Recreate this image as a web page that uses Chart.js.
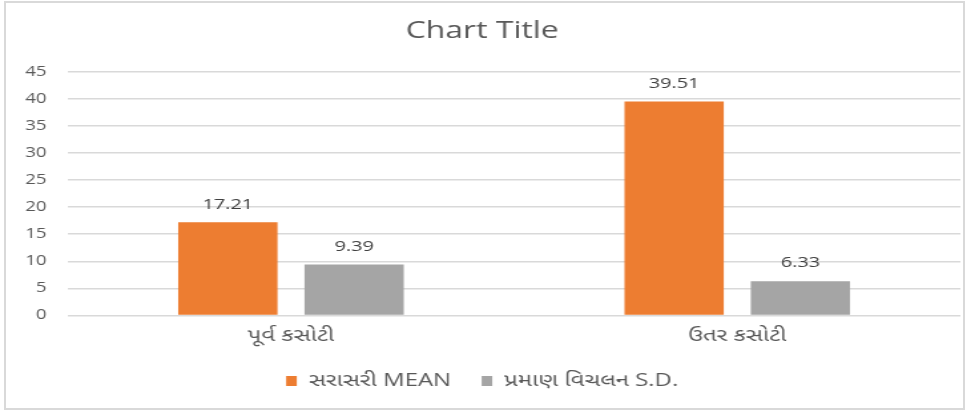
<!DOCTYPE html>
<html>
<head>
<meta charset="utf-8">
<script src="https://cdn.jsdelivr.net/npm/chart.js@4.4.1/dist/chart.umd.min.js"></script>
<style>
  body { margin: 0; background: #fff; }
  #wrap { position: relative; width: 979px; height: 413px; }
  #ram { position: absolute; left: 4px; top: 1px; width: 957px; height: 405px; border: 2px solid #d9d9d9; }
  /* Originalbilden är horisontellt utdragen, så canvasen sträcks ut med CSS */
  canvas { position: absolute; left: 0; top: 0; }
</style>
</head>
<body>
<div id="wrap">
  <div id="ram"></div>
  <canvas id="diagram" width="736" height="413" style="width:979px;height:413px"></canvas>
</div>
<script>
// Kategorier och serier
const kategorier = ['પૂર્વ કસોટી', 'ઉતર કસોટી'];
const serieNamn = ['સરાસરી MEAN', 'પ્રમાણ વિચલન S.D.'];
const medel = [17.21, 39.51];
const standardavvikelse = [9.39, 6.33];
const yTicks = [0, 5, 10, 15, 20, 25, 30, 35, 40, 45];

const textFarg = '#595959';
const typsnitt = "'Open Sans', 'Noto Sans', 'Noto Sans Gujarati', sans-serif";

// Ritar värdet ovanför varje stapel
const vardeEtiketter = {
  id: 'vardeEtiketter',
  afterDatasetsDraw(chart) {
    const ctx = chart.ctx;
    ctx.save();
    ctx.font = '15px ' + typsnitt;
    ctx.fillStyle = '#404040';
    ctx.textAlign = 'center';
    ctx.textBaseline = 'middle';
    chart.data.datasets.forEach((ds, i) => {
      chart.getDatasetMeta(i).data.forEach((bar, j) => {
        ctx.fillText(ds.data[j].toFixed(2), bar.x, bar.y - 18);
      });
    });
    ctx.restore();
  }
};

new Chart(document.getElementById('diagram').getContext('2d'), {
  type: 'bar',
  data: {
    labels: kategorier,
    datasets: [
      { label: serieNamn[0], data: medel, backgroundColor: '#ED7D31',
        categoryPercentage: 0.566, barPercentage: 0.786 },
      { label: serieNamn[1], data: standardavvikelse, backgroundColor: '#A5A5A5',
        categoryPercentage: 0.566, barPercentage: 0.786 }
    ]
  },
  options: {
    responsive: false,
    animation: false,
    devicePixelRatio: 1,
    layout: { padding: { left: 3, right: 14, top: 10, bottom: 13 } },
    plugins: {
      title: {
        display: true,
        text: 'Chart Title',
        color: textFarg,
        font: { family: typsnitt, size: 24, weight: 'normal' },
        padding: { top: 7, bottom: 26 }
      },
      legend: {
        position: 'bottom',
        labels: {
          color: textFarg,
          font: { family: typsnitt, size: 18 },
          boxWidth: 8,
          boxHeight: 10,
          padding: 23
        }
      },
      tooltip: { enabled: false }
    },
    scales: {
      x: {
        grid: { display: false },
        border: { display: false },
        ticks: { color: textFarg, font: { family: typsnitt, size: 18 }, padding: 2 }
      },
      y: {
        min: 0,
        max: 45,
        afterBuildTicks: axis => { axis.ticks = yTicks.map(v => ({ value: v })); },
        grid: { color: '#d9d9d9', lineWidth: 1.5, drawTicks: false },
        border: { display: false },
        ticks: { color: textFarg, font: { family: typsnitt, size: 14 }, padding: 16 }
      }
    }
  },
  plugins: [vardeEtiketter]
});
</script>
</body>
</html>
